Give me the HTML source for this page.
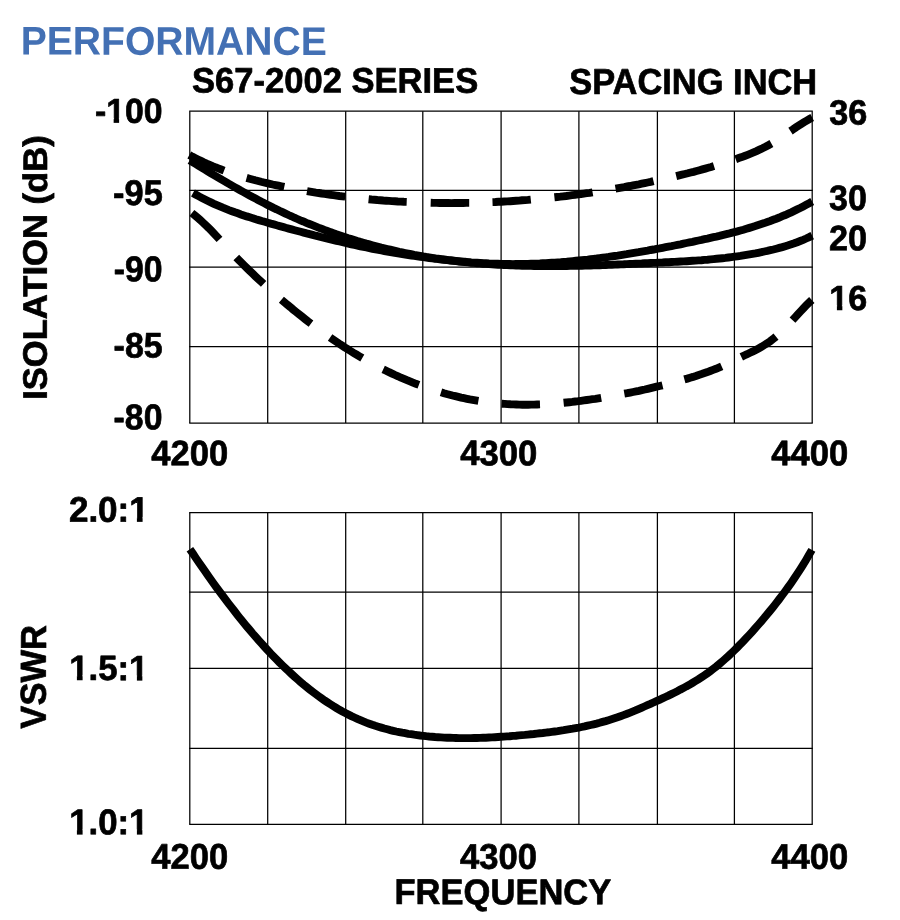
<!DOCTYPE html>
<html><head><meta charset="utf-8"><title>Performance</title>
<style>
html,body{margin:0;padding:0;background:#fff;}
svg{display:block;}
text{font-family:"Liberation Sans",sans-serif;font-weight:bold;fill:#000;stroke:#000;stroke-width:0.7px;stroke-linejoin:round;text-rendering:geometricPrecision;}
.g line{stroke:#000;stroke-width:1.25;}
.c{fill:none;stroke:#000;stroke-width:7.9;stroke-linecap:butt;}
.d{fill:none;stroke:#000;stroke-width:7.9;stroke-linecap:butt;}
</style></head><body>
<svg width="900" height="920" viewBox="0 0 900 920">
<rect width="900" height="920" fill="#fff"/>
<g class="g">
<line x1="189.8" y1="111.2" x2="189.8" y2="423.1"/>
<line x1="267.7" y1="111.2" x2="267.7" y2="423.1"/>
<line x1="345.7" y1="111.2" x2="345.7" y2="423.1"/>
<line x1="422.8" y1="111.2" x2="422.8" y2="423.1"/>
<line x1="501.1" y1="111.2" x2="501.1" y2="423.1"/>
<line x1="578.9" y1="111.2" x2="578.9" y2="423.1"/>
<line x1="657.4" y1="111.2" x2="657.4" y2="423.1"/>
<line x1="734.4" y1="111.2" x2="734.4" y2="423.1"/>
<line x1="812.2" y1="111.2" x2="812.2" y2="423.1"/>
<line x1="189.2" y1="111.2" x2="812.8" y2="111.2"/>
<line x1="189.2" y1="190.3" x2="812.8" y2="190.3"/>
<line x1="189.2" y1="267.0" x2="812.8" y2="267.0"/>
<line x1="189.2" y1="346.7" x2="812.8" y2="346.7"/>
<line x1="189.2" y1="423.1" x2="812.8" y2="423.1"/>
</g>
<g class="g">
<line x1="189.8" y1="512.5" x2="189.8" y2="824.3"/>
<line x1="267.7" y1="512.5" x2="267.7" y2="824.3"/>
<line x1="345.7" y1="512.5" x2="345.7" y2="824.3"/>
<line x1="422.8" y1="512.5" x2="422.8" y2="824.3"/>
<line x1="501.1" y1="512.5" x2="501.1" y2="824.3"/>
<line x1="578.9" y1="512.5" x2="578.9" y2="824.3"/>
<line x1="657.4" y1="512.5" x2="657.4" y2="824.3"/>
<line x1="734.4" y1="512.5" x2="734.4" y2="824.3"/>
<line x1="812.2" y1="512.5" x2="812.2" y2="824.3"/>
<line x1="189.2" y1="512.5" x2="812.8" y2="512.5"/>
<line x1="189.2" y1="592.2" x2="812.8" y2="592.2"/>
<line x1="189.2" y1="668.3" x2="812.8" y2="668.3"/>
<line x1="189.2" y1="748.3" x2="812.8" y2="748.3"/>
<line x1="189.2" y1="824.3" x2="812.8" y2="824.3"/>
</g>
<text id="t_perf" transform="translate(20.66,54.56) matrix(1,0.0012,0,1,0,0)" font-size="40.13" textLength="306.20" lengthAdjust="spacingAndGlyphs" style="fill:#4370b4;stroke:none">PERFORMANCE</text>
<text id="t_series" transform="translate(191.97,92.40) matrix(1,0.0012,0,1,0,0)" font-size="35.46" textLength="286.25" lengthAdjust="spacingAndGlyphs">S67-2002 SERIES</text>
<text id="t_spacing" transform="translate(569.16,93.94) matrix(1,0.0012,0,1,0,0)" font-size="36.17" textLength="248.08" lengthAdjust="spacingAndGlyphs">SPACING INCH</text>
<text id="y100" transform="translate(95.00,122.75) matrix(1,0.0012,0,1,0,0)" font-size="34.50" textLength="67.58" lengthAdjust="spacingAndGlyphs">-100</text>
<text id="y95" transform="translate(113.12,205.05) matrix(1,0.0012,0,1,0,0)" font-size="35.54" textLength="49.61" lengthAdjust="spacingAndGlyphs">-95</text>
<text id="y90" transform="translate(113.64,281.17) matrix(1,0.0012,0,1,0,0)" font-size="35.73" textLength="48.78" lengthAdjust="spacingAndGlyphs">-90</text>
<text id="y85" transform="translate(113.62,357.48) matrix(1,0.0012,0,1,0,0)" font-size="35.50" textLength="49.10" lengthAdjust="spacingAndGlyphs">-85</text>
<text id="y80" transform="translate(113.62,429.22) matrix(1,0.0012,0,1,0,0)" font-size="35.68" textLength="48.80" lengthAdjust="spacingAndGlyphs">-80</text>
<text id="iso" transform="translate(46.66,399.84) rotate(-90) matrix(1,0.0012,0,1,0,0)" font-size="33.93" textLength="264.51" lengthAdjust="spacingAndGlyphs">ISOLATION (dB)</text>
<text id="xa1" transform="translate(151.31,465.19) matrix(1,0.0012,0,1,0,0)" font-size="35.38" textLength="76.88" lengthAdjust="spacingAndGlyphs">4200</text>
<text id="xa2" transform="translate(460.15,465.12) matrix(1,0.0012,0,1,0,0)" font-size="35.40" textLength="77.20" lengthAdjust="spacingAndGlyphs">4300</text>
<text id="xa3" transform="translate(771.32,465.23) matrix(1,0.0012,0,1,0,0)" font-size="35.61" textLength="76.91" lengthAdjust="spacingAndGlyphs">4400</text>
<text id="r36" transform="translate(829.14,124.60) matrix(1,0.0012,0,1,0,0)" font-size="35.10" textLength="38.07" lengthAdjust="spacingAndGlyphs">36</text>
<text id="r30" transform="translate(829.07,210.01) matrix(1,0.0012,0,1,0,0)" font-size="35.28" textLength="37.83" lengthAdjust="spacingAndGlyphs">30</text>
<text id="r20" transform="translate(828.93,250.34) matrix(1,0.0012,0,1,0,0)" font-size="35.33" textLength="38.05" lengthAdjust="spacingAndGlyphs">20</text>
<text id="r16" transform="translate(829.33,309.94) matrix(1,0.0012,0,1,0,0)" font-size="34.78" textLength="37.88" lengthAdjust="spacingAndGlyphs">16</text>
<text id="v20" transform="translate(68.90,521.79) matrix(1,0.0012,0,1,0,0)" font-size="35.58" textLength="79.87" lengthAdjust="spacingAndGlyphs">2.0:1</text>
<text id="v15" transform="translate(69.18,680.09) matrix(1,0.0012,0,1,0,0)" font-size="35.28" textLength="79.30" lengthAdjust="spacingAndGlyphs">1.5:1</text>
<text id="v10" transform="translate(69.17,834.27) matrix(1,0.0012,0,1,0,0)" font-size="35.69" textLength="79.28" lengthAdjust="spacingAndGlyphs">1.0:1</text>
<text id="vswr" transform="translate(45.80,728.63) rotate(-90) matrix(1,0.0012,0,1,0,0)" font-size="36.08" textLength="103.61" lengthAdjust="spacingAndGlyphs">VSWR</text>
<text id="xb1" transform="translate(151.29,868.65) matrix(1,0.0012,0,1,0,0)" font-size="35.79" textLength="76.79" lengthAdjust="spacingAndGlyphs">4200</text>
<text id="xb2" transform="translate(460.11,868.69) matrix(1,0.0012,0,1,0,0)" font-size="35.62" textLength="76.96" lengthAdjust="spacingAndGlyphs">4300</text>
<text id="xb3" transform="translate(771.28,868.78) matrix(1,0.0012,0,1,0,0)" font-size="35.64" textLength="76.98" lengthAdjust="spacingAndGlyphs">4400</text>
<text id="freq" transform="translate(394.52,904.09) matrix(1,0.0012,0,1,0,0)" font-size="35.82" textLength="216.81" lengthAdjust="spacingAndGlyphs">FREQUENCY</text>
<g><rect x="107.30" y="117.95" width="6.35" height="6.80" fill="#fff"/>
<rect x="119.10" y="117.95" width="6.10" height="6.80" fill="#fff"/>
<rect x="830.30" y="305.20" width="6.60" height="6.80" fill="#fff"/>
<rect x="842.35" y="305.20" width="6.10" height="6.80" fill="#fff"/>
<rect x="130.30" y="516.95" width="6.60" height="6.80" fill="#fff"/>
<rect x="142.60" y="516.95" width="6.35" height="6.80" fill="#fff"/>
<rect x="70.30" y="675.20" width="6.60" height="6.80" fill="#fff"/>
<rect x="82.60" y="675.20" width="6.10" height="6.80" fill="#fff"/>
<rect x="130.05" y="675.45" width="6.85" height="6.80" fill="#fff"/>
<rect x="142.35" y="675.45" width="6.35" height="6.80" fill="#fff"/>
<rect x="70.30" y="829.45" width="6.60" height="6.80" fill="#fff"/>
<rect x="82.60" y="829.45" width="6.10" height="6.80" fill="#fff"/>
<rect x="130.05" y="829.45" width="6.85" height="6.80" fill="#fff"/>
<rect x="142.35" y="829.45" width="6.35" height="6.80" fill="#fff"/></g>
<path id="c30" class="c" d="M189.7,160.3 L192.7,162.1 L195.7,164.0 L198.7,165.8 L201.7,167.6 L204.7,169.5 L207.7,171.3 L210.6,173.1 L213.6,174.9 L216.6,176.6 L219.6,178.4 L222.6,180.2 L225.6,181.9 L228.6,183.7 L231.6,185.4 L234.6,187.1 L237.6,188.8 L240.6,190.5 L243.6,192.1 L246.6,193.8 L249.6,195.4 L252.5,197.0 L255.5,198.6 L258.5,200.2 L261.5,201.8 L264.5,203.3 L267.5,204.9 L270.5,206.4 L273.5,207.9 L276.5,209.3 L279.5,210.8 L282.5,212.2 L285.5,213.6 L288.5,215.0 L291.5,216.3 L294.4,217.7 L297.4,219.0 L300.4,220.3 L303.4,221.5 L306.4,222.8 L309.4,224.0 L312.4,225.2 L315.4,226.4 L318.4,227.6 L321.4,228.7 L324.4,229.9 L327.4,231.0 L330.4,232.1 L333.4,233.1 L336.3,234.2 L339.3,235.2 L342.3,236.2 L345.3,237.2 L348.3,238.2 L351.3,239.1 L354.3,240.0 L357.3,241.0 L360.3,241.9 L363.3,242.7 L366.3,243.6 L369.3,244.4 L372.3,245.2 L375.3,246.0 L378.2,246.8 L381.2,247.6 L384.2,248.3 L387.2,249.0 L390.2,249.7 L393.2,250.4 L396.2,251.1 L399.2,251.8 L402.2,252.4 L405.2,253.0 L408.2,253.6 L411.2,254.2 L414.2,254.8 L417.2,255.3 L420.1,255.8 L423.1,256.4 L426.1,256.9 L429.1,257.3 L432.1,257.8 L435.1,258.3 L438.1,258.7 L441.1,259.1 L444.1,259.5 L447.1,259.9 L450.1,260.3 L453.1,260.6 L456.1,260.9 L459.1,261.3 L462.0,261.6 L465.0,261.8 L468.0,262.1 L471.0,262.4 L474.0,262.6 L477.0,262.8 L480.0,263.0 L483.0,263.2 L486.0,263.3 L489.0,263.5 L492.0,263.6 L495.0,263.7 L498.0,263.8 L500.9,263.9 L503.9,264.0 L506.9,264.0 L509.9,264.0 L512.9,264.1 L515.9,264.0 L518.9,264.0 L521.9,264.0 L524.9,263.9 L527.9,263.9 L530.9,263.8 L533.9,263.7 L536.9,263.6 L539.9,263.5 L542.8,263.3 L545.8,263.2 L548.8,263.0 L551.8,262.8 L554.8,262.6 L557.8,262.4 L560.8,262.2 L563.8,261.9 L566.8,261.7 L569.8,261.4 L572.8,261.1 L575.8,260.8 L578.8,260.5 L581.8,260.2 L584.7,259.9 L587.7,259.6 L590.7,259.2 L593.7,258.8 L596.7,258.5 L599.7,258.1 L602.7,257.7 L605.7,257.3 L608.7,256.9 L611.7,256.4 L614.7,256.0 L617.7,255.6 L620.7,255.1 L623.7,254.6 L626.6,254.2 L629.6,253.7 L632.6,253.2 L635.6,252.7 L638.6,252.2 L641.6,251.6 L644.6,251.1 L647.6,250.6 L650.6,250.0 L653.6,249.5 L656.6,248.9 L659.6,248.4 L662.6,247.8 L665.6,247.2 L668.5,246.6 L671.5,246.1 L674.5,245.5 L677.5,244.9 L680.5,244.3 L683.5,243.6 L686.5,243.0 L689.5,242.4 L692.5,241.8 L695.5,241.1 L698.5,240.5 L701.5,239.9 L704.5,239.2 L707.5,238.6 L710.4,237.9 L713.4,237.2 L716.4,236.6 L719.4,235.9 L722.4,235.1 L725.4,234.4 L728.4,233.7 L731.4,232.9 L734.4,232.1 L737.4,231.4 L740.4,230.5 L743.4,229.7 L746.4,228.8 L749.4,227.9 L752.3,227.0 L755.3,226.1 L758.3,225.1 L761.3,224.1 L764.3,223.1 L767.3,222.0 L770.3,221.0 L773.3,219.8 L776.3,218.7 L779.3,217.5 L782.3,216.2 L785.3,215.0 L788.3,213.6 L791.3,212.3 L794.2,210.9 L797.2,209.4 L800.2,208.0 L803.2,206.4 L806.2,204.8 L809.2,203.2 L812.2,201.5"/>
<path id="c20" class="c" d="M193.0,193.0 L196.0,194.7 L199.0,196.4 L202.0,198.0 L205.0,199.5 L208.0,201.0 L210.9,202.4 L213.9,203.8 L216.9,205.1 L219.9,206.4 L222.9,207.7 L225.9,208.9 L228.9,210.1 L231.9,211.2 L234.9,212.3 L237.9,213.3 L240.9,214.4 L243.9,215.4 L246.8,216.4 L249.8,217.3 L252.8,218.2 L255.8,219.2 L258.8,220.1 L261.8,221.0 L264.8,221.8 L267.8,222.7 L270.8,223.6 L273.8,224.4 L276.8,225.3 L279.7,226.1 L282.7,226.9 L285.7,227.8 L288.7,228.6 L291.7,229.4 L294.7,230.2 L297.7,231.0 L300.7,231.8 L303.7,232.6 L306.7,233.4 L309.7,234.1 L312.7,234.9 L315.6,235.7 L318.6,236.4 L321.6,237.2 L324.6,237.9 L327.6,238.7 L330.6,239.4 L333.6,240.1 L336.6,240.8 L339.6,241.5 L342.6,242.2 L345.6,242.9 L348.5,243.6 L351.5,244.3 L354.5,245.0 L357.5,245.6 L360.5,246.3 L363.5,246.9 L366.5,247.5 L369.5,248.2 L372.5,248.8 L375.5,249.4 L378.5,249.9 L381.5,250.5 L384.4,251.1 L387.4,251.6 L390.4,252.1 L393.4,252.6 L396.4,253.2 L399.4,253.6 L402.4,254.1 L405.4,254.6 L408.4,255.1 L411.4,255.5 L414.4,255.9 L417.3,256.4 L420.3,256.8 L423.3,257.2 L426.3,257.6 L429.3,258.0 L432.3,258.4 L435.3,258.7 L438.3,259.1 L441.3,259.5 L444.3,259.8 L447.3,260.2 L450.3,260.5 L453.2,260.8 L456.2,261.1 L459.2,261.5 L462.2,261.8 L465.2,262.1 L468.2,262.4 L471.2,262.7 L474.2,262.9 L477.2,263.2 L480.2,263.4 L483.2,263.7 L486.1,263.9 L489.1,264.1 L492.1,264.3 L495.1,264.5 L498.1,264.7 L501.1,264.8 L504.1,265.0 L507.1,265.1 L510.1,265.3 L513.1,265.4 L516.1,265.5 L519.1,265.6 L522.0,265.7 L525.0,265.8 L528.0,265.8 L531.0,265.9 L534.0,266.0 L537.0,266.0 L540.0,266.0 L543.0,266.1 L546.0,266.1 L549.0,266.1 L552.0,266.1 L554.9,266.1 L557.9,266.1 L560.9,266.0 L563.9,266.0 L566.9,266.0 L569.9,265.9 L572.9,265.9 L575.9,265.8 L578.9,265.8 L581.9,265.7 L584.9,265.6 L587.9,265.6 L590.8,265.5 L593.8,265.4 L596.8,265.3 L599.8,265.2 L602.8,265.1 L605.8,265.0 L608.8,264.9 L611.8,264.8 L614.8,264.6 L617.8,264.5 L620.8,264.4 L623.7,264.3 L626.7,264.1 L629.7,264.0 L632.7,263.9 L635.7,263.7 L638.7,263.6 L641.7,263.5 L644.7,263.3 L647.7,263.2 L650.7,263.0 L653.7,262.9 L656.7,262.8 L659.6,262.6 L662.6,262.5 L665.6,262.3 L668.6,262.2 L671.6,262.0 L674.6,261.9 L677.6,261.7 L680.6,261.5 L683.6,261.4 L686.6,261.2 L689.6,261.0 L692.5,260.8 L695.5,260.6 L698.5,260.4 L701.5,260.2 L704.5,259.9 L707.5,259.7 L710.5,259.4 L713.5,259.1 L716.5,258.8 L719.5,258.5 L722.5,258.2 L725.5,257.9 L728.4,257.5 L731.4,257.1 L734.4,256.7 L737.4,256.3 L740.4,255.9 L743.4,255.4 L746.4,254.9 L749.4,254.4 L752.4,253.9 L755.4,253.4 L758.4,252.8 L761.3,252.2 L764.3,251.5 L767.3,250.9 L770.3,250.2 L773.3,249.5 L776.3,248.7 L779.3,247.9 L782.3,247.1 L785.3,246.2 L788.3,245.3 L791.3,244.3 L794.3,243.3 L797.2,242.2 L800.2,241.0 L803.2,239.8 L806.2,238.5 L809.2,237.1 L812.2,235.6"/>
<path id="cv" class="c" d="M189.9,549.2 L192.9,553.6 L195.9,558.1 L198.9,562.4 L201.9,566.8 L204.9,571.1 L207.8,575.3 L210.8,579.5 L213.8,583.7 L216.8,587.8 L219.8,591.9 L222.8,595.9 L225.8,599.9 L228.8,603.8 L231.8,607.7 L234.8,611.5 L237.7,615.3 L240.7,619.1 L243.7,622.7 L246.7,626.4 L249.7,629.9 L252.7,633.5 L255.7,636.9 L258.7,640.3 L261.7,643.7 L264.7,647.0 L267.7,650.2 L270.6,653.4 L273.6,656.5 L276.6,659.6 L279.6,662.6 L282.6,665.5 L285.6,668.4 L288.6,671.2 L291.6,674.0 L294.6,676.7 L297.6,679.4 L300.5,681.9 L303.5,684.5 L306.5,686.9 L309.5,689.3 L312.5,691.7 L315.5,693.9 L318.5,696.1 L321.5,698.3 L324.5,700.4 L327.5,702.4 L330.4,704.3 L333.4,706.2 L336.4,708.0 L339.4,709.8 L342.4,711.5 L345.4,713.1 L348.4,714.6 L351.4,716.1 L354.4,717.5 L357.4,718.9 L360.4,720.2 L363.3,721.4 L366.3,722.6 L369.3,723.7 L372.3,724.8 L375.3,725.8 L378.3,726.7 L381.3,727.6 L384.3,728.5 L387.3,729.3 L390.3,730.1 L393.2,730.8 L396.2,731.5 L399.2,732.1 L402.2,732.7 L405.2,733.2 L408.2,733.8 L411.2,734.2 L414.2,734.7 L417.2,735.1 L420.2,735.5 L423.2,735.8 L426.1,736.2 L429.1,736.5 L432.1,736.7 L435.1,737.0 L438.1,737.2 L441.1,737.4 L444.1,737.6 L447.1,737.7 L450.1,737.8 L453.1,737.9 L456.0,738.0 L459.0,738.1 L462.0,738.1 L465.0,738.1 L468.0,738.1 L471.0,738.1 L474.0,738.0 L477.0,738.0 L480.0,737.9 L483.0,737.8 L485.9,737.7 L488.9,737.5 L491.9,737.4 L494.9,737.2 L497.9,737.0 L500.9,736.8 L503.9,736.6 L506.9,736.4 L509.9,736.2 L512.9,735.9 L515.9,735.7 L518.8,735.4 L521.8,735.1 L524.8,734.9 L527.8,734.6 L530.8,734.3 L533.8,734.0 L536.8,733.6 L539.8,733.3 L542.8,733.0 L545.8,732.6 L548.7,732.3 L551.7,731.9 L554.7,731.5 L557.7,731.1 L560.7,730.6 L563.7,730.2 L566.7,729.7 L569.7,729.2 L572.7,728.7 L575.7,728.1 L578.7,727.6 L581.6,727.0 L584.6,726.4 L587.6,725.7 L590.6,725.0 L593.6,724.3 L596.6,723.6 L599.6,722.8 L602.6,721.9 L605.6,721.1 L608.6,720.2 L611.5,719.3 L614.5,718.3 L617.5,717.3 L620.5,716.2 L623.5,715.1 L626.5,714.0 L629.5,712.8 L632.5,711.6 L635.5,710.4 L638.5,709.1 L641.4,707.8 L644.4,706.5 L647.4,705.2 L650.4,703.9 L653.4,702.5 L656.4,701.1 L659.4,699.8 L662.4,698.4 L665.4,697.0 L668.4,695.6 L671.4,694.1 L674.3,692.7 L677.3,691.2 L680.3,689.6 L683.3,688.1 L686.3,686.4 L689.3,684.8 L692.3,683.0 L695.3,681.2 L698.3,679.4 L701.3,677.4 L704.2,675.4 L707.2,673.4 L710.2,671.2 L713.2,668.9 L716.2,666.6 L719.2,664.1 L722.2,661.6 L725.2,658.9 L728.2,656.2 L731.2,653.4 L734.2,650.5 L737.1,647.6 L740.1,644.5 L743.1,641.4 L746.1,638.3 L749.1,635.1 L752.1,631.8 L755.1,628.4 L758.1,625.0 L761.1,621.6 L764.1,618.1 L767.0,614.5 L770.0,610.9 L773.0,607.2 L776.0,603.4 L779.0,599.5 L782.0,595.5 L785.0,591.5 L788.0,587.4 L791.0,583.2 L794.0,578.8 L796.9,574.4 L799.9,569.8 L802.9,565.1 L805.9,560.2 L808.9,555.1 L811.9,549.9"/>
<path id="c36" class="d" d="M189.3,155.0 L192.2,156.6 L195.1,158.1 L198.0,159.5 L200.9,160.9 L203.8,162.3 L206.7,163.6 L209.6,164.8 L212.5,166.1 L215.4,167.3 L218.3,168.4 L221.2,169.5 L224.1,170.6 M246.6,177.9 L249.5,178.7 L252.4,179.5 L255.3,180.3 L258.2,181.0 L261.1,181.8 L264.0,182.5 L266.9,183.2 L269.8,183.8 L272.7,184.5 L275.6,185.1 L278.5,185.7 L281.4,186.3 L284.3,186.9 M307.0,191.1 L309.9,191.6 L312.9,192.1 L315.8,192.6 L318.8,193.0 L321.7,193.5 L324.7,193.9 L327.6,194.4 L330.6,194.8 L333.5,195.2 L336.5,195.6 L339.4,196.0 L342.4,196.3 L345.3,196.7 M368.6,199.2 L371.5,199.5 L374.5,199.7 L377.4,200.0 L380.3,200.2 L383.3,200.5 L386.2,200.7 L389.1,200.9 L392.0,201.1 L395.0,201.3 L397.9,201.5 L400.8,201.6 L403.8,201.8 L406.7,201.9 M430.7,202.8 L433.7,202.9 L436.6,202.9 L439.6,203.0 L442.5,203.0 L445.5,203.0 L448.5,203.0 L451.4,203.1 L454.4,203.0 L457.4,203.0 L460.3,203.0 L463.3,203.0 L466.2,202.9 L469.2,202.9 M492.5,202.1 L495.4,202.0 L498.4,201.8 L501.3,201.7 L504.3,201.5 L507.2,201.4 L510.2,201.2 L513.1,201.0 L516.1,200.8 L519.0,200.6 L522.0,200.3 L524.9,200.1 L527.9,199.9 L530.8,199.6 M554.4,197.3 L557.3,197.0 L560.3,196.7 L563.2,196.3 L566.2,196.0 L569.1,195.6 L572.0,195.2 L575.0,194.8 L577.9,194.4 L580.8,194.0 L583.8,193.6 L586.7,193.2 L589.7,192.8 L592.6,192.3 M615.5,188.6 L618.4,188.1 L621.3,187.6 L624.3,187.1 L627.2,186.5 L630.1,186.0 L633.0,185.4 L636.0,184.8 L638.9,184.3 L641.8,183.7 L644.7,183.1 L647.7,182.5 L650.6,181.9 L653.5,181.2 M676.2,176.1 L679.1,175.4 L682.0,174.7 L684.9,174.0 L687.8,173.3 L690.7,172.5 L693.6,171.8 L696.6,171.0 L699.5,170.2 L702.4,169.4 L705.3,168.6 L708.2,167.8 L711.1,167.0 L714.0,166.1 M735.7,159.2 L738.7,158.1 L741.7,157.1 L744.6,156.0 L747.6,154.8 L750.6,153.6 L753.5,152.4 L756.5,151.1 L759.5,149.7 L762.5,148.3 L765.5,146.8 L768.4,145.2 L771.4,143.5 M790.5,131.1 L793.2,129.3 L795.9,127.4 L798.6,125.7 L801.4,123.9 L804.1,122.2 L806.8,120.6 L809.5,119.0 L812.2,117.6"/>
<path id="c16" class="d" d="M191.9,213.0 L194.7,215.2 L197.4,217.5 L200.2,219.9 L202.9,222.5 L205.7,225.1 L208.5,227.8 L211.2,230.6 L214.0,233.5 L216.7,236.4 L219.5,239.4 M236.3,257.4 L239.0,260.2 L241.8,263.0 L244.5,265.7 L247.2,268.4 L250.0,271.1 L252.7,273.7 L255.4,276.3 L258.1,278.8 L260.9,281.4 L263.6,283.9 M281.4,299.7 L284.4,302.2 L287.3,304.7 L290.3,307.1 L293.2,309.6 L296.2,312.0 L299.2,314.4 L302.1,316.7 L305.1,319.1 L308.0,321.4 L311.0,323.6 M330.1,337.5 L333.0,339.5 L336.0,341.5 L338.9,343.5 L341.8,345.4 L344.7,347.3 L347.7,349.1 L350.6,351.0 L353.5,352.8 L356.4,354.5 L359.4,356.3 L362.3,358.0 M383.2,369.3 L386.2,370.7 L389.1,372.2 L392.1,373.6 L395.1,375.0 L398.1,376.3 L401.0,377.7 L404.0,378.9 L407.0,380.2 L410.0,381.4 L412.9,382.6 L415.9,383.8 L418.9,384.9 M441.0,392.3 L443.9,393.2 L446.8,394.0 L449.6,394.7 L452.5,395.5 L455.4,396.2 L458.3,396.9 L461.1,397.6 L464.0,398.2 L466.9,398.8 L469.8,399.4 L472.6,399.9 L475.5,400.4 L478.4,400.9 M501.7,403.7 L504.6,403.9 L507.6,404.1 L510.5,404.3 L513.5,404.4 L516.4,404.5 L519.4,404.6 L522.3,404.7 L525.3,404.7 L528.2,404.7 L531.2,404.6 L534.1,404.6 L537.1,404.5 L540.0,404.4 M563.6,402.8 L566.5,402.5 L569.4,402.2 L572.3,401.9 L575.2,401.5 L578.1,401.2 L581.0,400.8 L583.8,400.4 L586.7,400.0 L589.6,399.6 L592.5,399.2 L595.4,398.8 L598.3,398.3 L601.2,397.8 M624.3,393.7 L627.2,393.2 L630.2,392.6 L633.1,392.0 L636.1,391.4 L639.0,390.8 L641.9,390.1 L644.9,389.5 L647.8,388.8 L650.7,388.1 L653.7,387.4 L656.6,386.7 L659.6,386.0 L662.5,385.3 M684.4,379.4 L687.3,378.6 L690.1,377.7 L693.0,376.9 L695.9,376.0 L698.7,375.0 L701.6,374.1 L704.5,373.1 L707.4,372.1 L710.2,371.0 L713.1,369.9 L716.0,368.8 L718.8,367.6 L721.7,366.3 M741.3,356.9 L744.2,355.5 L747.1,354.2 L750.0,352.8 L752.9,351.4 L755.8,349.9 L758.6,348.4 L761.5,346.8 L764.4,345.0 L767.3,343.2 L770.2,341.2 L773.1,339.0 L776.0,336.6 M792.5,320.1 L795.3,317.1 L798.0,314.1 L800.8,311.1 L803.5,308.2 L806.3,305.3 L809.0,302.6 L811.8,300.0"/>
</svg>
</body></html>
